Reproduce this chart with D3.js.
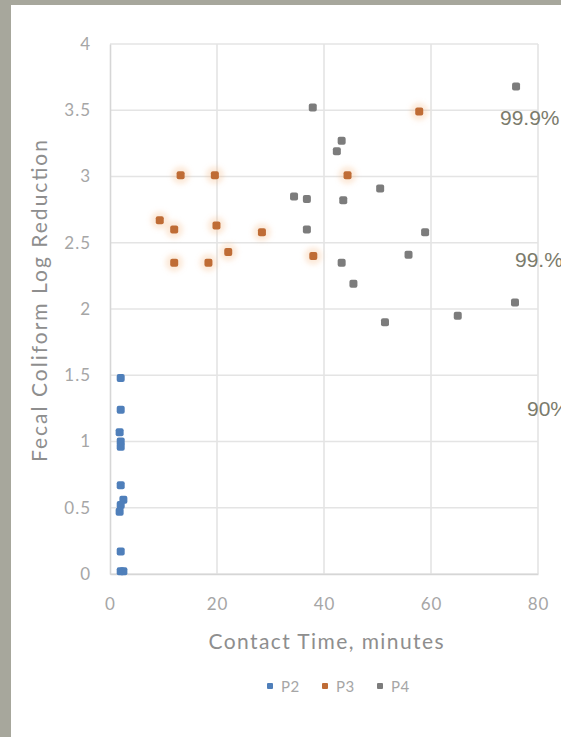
<!DOCTYPE html>
<html>
<head>
<meta charset="utf-8">
<script src="https://cdn.jsdelivr.net/npm/d3@7/dist/d3.min.js"></script>
<style>
  html, body { margin: 0; padding: 0; background: #fff; }
  svg { display: block; }
</style>
</head>
<body>
<div id="chart"></div>
<script>
// Contact time (minutes) vs. fecal coliform log reduction, three ponds
const seriesNames = ["P2", "P3", "P4"];

const p2Time = [2, 2, 1.8, 2, 2, 2, 2.5, 2, 1.8, 2, 2, 2.5];
const p2Reduction = [1.48, 1.24, 1.07, 1.0, 0.96, 0.67, 0.56, 0.52, 0.47, 0.17, 0.02, 0.02];

const p3Time = [13.2, 19.6, 9.3, 12.0, 19.9, 28.4, 12.0, 18.4, 22.1, 44.4, 57.8, 38.0];
const p3Reduction = [3.01, 3.01, 2.67, 2.60, 2.63, 2.58, 2.35, 2.35, 2.43, 3.01, 3.49, 2.40];

const p4Time = [75.9, 37.9, 43.3, 42.4, 50.5, 34.4, 36.8, 43.6, 36.8, 58.9, 43.3, 55.8, 45.5, 51.4, 65.0, 75.7];
const p4Reduction = [3.68, 3.52, 3.27, 3.19, 2.91, 2.85, 2.83, 2.82, 2.60, 2.58, 2.35, 2.41, 2.19, 1.90, 1.95, 2.05];

const xTicks = [0, 20, 40, 60, 80];
const yTicks = [0, 0.5, 1, 1.5, 2, 2.5, 3, 3.5, 4];

// removal percentages noted along the right edge, at their log level
const percentLabels = ["99.9%", "99.%", "90%"];
const percentLevels = [3.45, 2.38, 1.25];

const xTitle = "Contact Time, minutes";
const yTitle = "Fecal Coliform Log Reduction";

const W = 561, H = 737;
const colors = { P2: "#4f7fba", P3: "#bf6c36", P4: "#7c7c7c" };

const series = [
  { name: "P2", t: p2Time, v: p2Reduction },
  { name: "P3", t: p3Time, v: p3Reduction },
  { name: "P4", t: p4Time, v: p4Reduction }
];

const svg = d3.select("#chart").append("svg")
  .attr("width", W).attr("height", H);

const defs = svg.append("defs");
defs.append("filter").attr("id", "soft")
  .append("feGaussianBlur").attr("stdDeviation", 0.6);
defs.append("filter").attr("id", "halo")
  .attr("x", "-100%").attr("y", "-100%").attr("width", "300%").attr("height", "300%")
  .append("feGaussianBlur").attr("stdDeviation", 2.5);

// page background and frame
svg.append("rect").attr("width", W).attr("height", H).attr("fill", "#fff");
svg.append("rect").attr("x", 0).attr("y", 0).attr("width", 11).attr("height", H).attr("fill", "#a7a79c");
svg.append("rect").attr("x", 0).attr("y", 0).attr("width", W).attr("height", 5).attr("fill", "#a7a79c");

const x = d3.scaleLinear().domain([0, 80]).range([110, 538]);
const y = d3.scaleLinear().domain([0, 4]).range([574, 44]);

const font = "Lato, 'Open Sans', sans-serif";

// gridlines
const grid = svg.append("g");
grid.selectAll("line.h").data(yTicks).join("line")
  .attr("x1", x(0)).attr("x2", x(80))
  .attr("y1", d => y(d)).attr("y2", d => y(d))
  .attr("stroke", "#e4e4e4").attr("stroke-width", 1.6);
grid.selectAll("line.v").data(xTicks.slice(1)).join("line")
  .attr("y1", y(0)).attr("y2", y(4))
  .attr("x1", d => x(d)).attr("x2", d => x(d))
  .attr("stroke", "#e4e4e4").attr("stroke-width", 1.6);

// axes
const yAxis = d3.axisLeft(y).tickValues(yTicks).tickSize(0).tickPadding(19)
  .tickFormat(d3.format("~g"));
const xAxis = d3.axisBottom(x).tickValues(xTicks).tickSize(0).tickPadding(24);

const gy = svg.append("g").attr("transform", `translate(${x(0)},0)`).call(yAxis);
const gx = svg.append("g").attr("transform", `translate(0,${y(0)})`).call(xAxis);
[gx, gy].forEach(g => {
  g.select(".domain").attr("stroke", "#d6d6d6").attr("stroke-width", 1.6);
  g.selectAll("text").attr("fill", "#a6a6a6")
    .style("font-family", font).style("font-size", "17px")
    .style("letter-spacing", "1px");
});

// axis titles
svg.append("text")
  .attr("x", 326).attr("y", 649)
  .attr("text-anchor", "middle")
  .attr("fill", "#8e8e8e")
  .attr("textLength", 235).attr("lengthAdjust", "spacing")
  .style("font-family", font).style("font-size", "21px")
  .text(xTitle);

svg.append("text")
  .attr("transform", `translate(47,301) rotate(-90)`)
  .attr("text-anchor", "middle")
  .attr("fill", "#8e8e8e")
  .attr("textLength", 322).attr("lengthAdjust", "spacing")
  .style("font-family", font).style("font-size", "21px")
  .text(yTitle);

// soft halo behind the P3 markers
svg.append("g").attr("filter", "url(#halo)")
  .selectAll("circle")
  .data(p3Time.map((t, i) => [t, p3Reduction[i]]))
  .join("circle")
  .attr("cx", d => x(d[0])).attr("cy", d => y(d[1]))
  .attr("r", 9)
  .attr("fill", "#f6b27a").attr("fill-opacity", 0.28);

// markers
const marks = svg.append("g").attr("filter", "url(#soft)");
series.forEach(s => {
  marks.append("g").selectAll("rect")
    .data(s.t.map((t, i) => [t, s.v[i]]))
    .join("rect")
    .attr("x", d => x(d[0]) - 4).attr("y", d => y(d[1]) - 4)
    .attr("width", 8).attr("height", 8).attr("rx", 2)
    .attr("fill", colors[s.name]);
});

// percentage notes at right edge
svg.append("g").selectAll("text")
  .data(percentLabels)
  .join("text")
  .attr("x", (d, i) => [500, 515, 527][i])
  .attr("y", (d, i) => y(percentLevels[i]) + 8)
  .attr("fill", "#7b7b6c")
  .style("font-family", "'Liberation Sans', Arial, sans-serif")
  .style("font-size", "21px")
  .text(d => d);

// legend
const legend = svg.append("g");
seriesNames.forEach((name, i) => {
  const lx = 270 + i * 55;
  legend.append("rect")
    .attr("x", lx - 3).attr("y", 683).attr("width", 6).attr("height", 6).attr("rx", 1)
    .attr("fill", colors[name]);
  legend.append("text")
    .attr("x", lx + 11).attr("y", 692)
    .attr("fill", "#a6a6a6")
    .style("font-family", font).style("font-size", "15px")
    .style("letter-spacing", "0.5px")
    .text(name);
});
</script>
</body>
</html>
